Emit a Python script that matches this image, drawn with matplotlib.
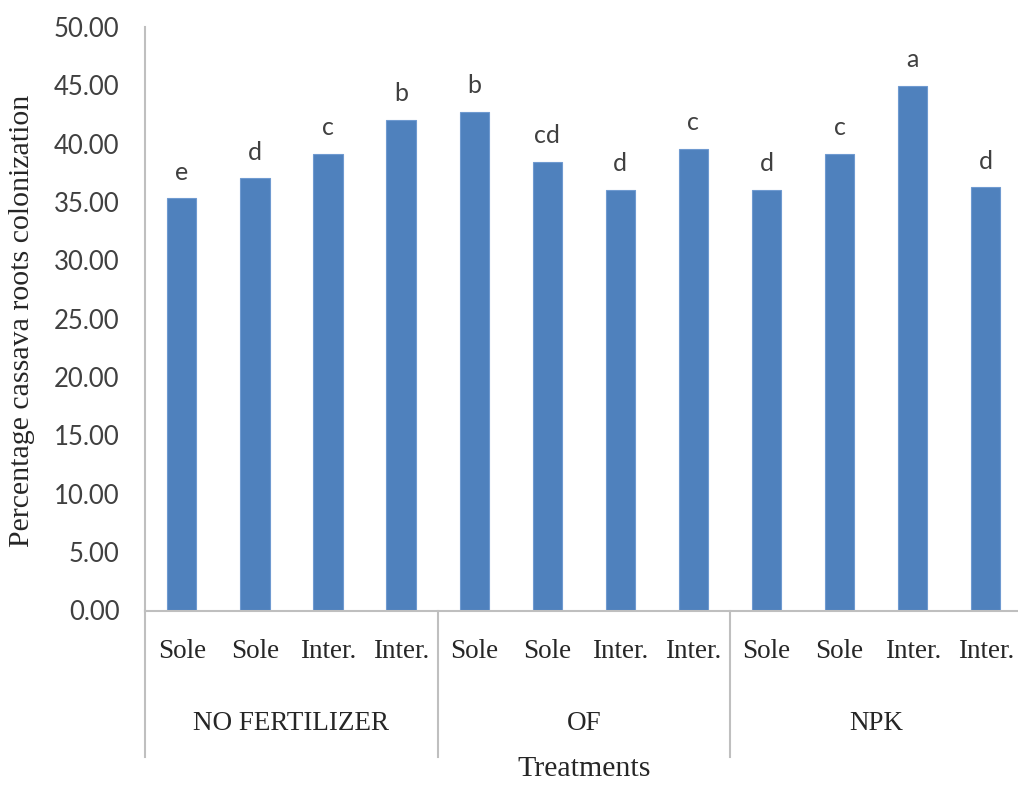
import matplotlib
matplotlib.use("Agg")
import matplotlib.pyplot as plt
from matplotlib.transforms import blended_transform_factory

# Mean root colonization (%) per treatment
systems = ["Sole", "Sole", "Inter.", "Inter.",
           "Sole", "Sole", "Inter.", "Inter.",
           "Sole", "Sole", "Inter.", "Inter."]
groups = ["NO FERTILIZER", "OF", "NPK"]
values = [35.32, 37.03, 39.12, 42.03,
          42.74, 38.46, 36.03, 39.57,
          36.03, 39.14, 44.94, 36.26]
letters = ["e", "d", "c", "b",
           "b", "cd", "d", "c",
           "d", "c", "a", "d"]
yticks = [0, 5, 10, 15, 20, 25, 30, 35, 40, 45, 50]

W, H = 1018, 789
fig = plt.figure(figsize=(W / 100, H / 100), dpi=100)
ax = fig.add_axes([145.3 / W, (H - 610.5) / H, 877 / W, 583.5 / H])

bar_color = "#4F81BD"
axis_color = "#BFBFBF"
serif = ["Liberation Serif", "DejaVu Serif"]
sans = ["Lato", "DejaVu Sans"]

x = list(range(len(values)))
ax.bar(x, values, width=0.4, color=bar_color, edgecolor="#6F9AD0",
       linewidth=0.8, zorder=2)

for xi, v, lab in zip(x, values, letters):
    ax.annotate(lab, (xi, v), xytext=(0, 13.5), textcoords="offset points",
                ha="center", va="baseline", fontsize=18, family=sans,
                color="#404040")

ax.set_xlim(-0.5, len(values) - 0.5)
ax.set_ylim(0, 50)
ax.set_yticks(yticks)
ax.set_yticklabels([f"{t:.2f}" for t in yticks], family=sans, fontsize=18.5,
                   color="#404040")
ax.tick_params(axis="y", length=0, pad=18.5)
ax.set_xticks([])

for side in ("top", "right"):
    ax.spines[side].set_visible(False)
for side in ("left", "bottom"):
    ax.spines[side].set_color(axis_color)
    ax.spines[side].set_linewidth(1.5)

# Two-level category axis
trans = blended_transform_factory(ax.transData, ax.transAxes)
for xi, s in zip(x, systems):
    ax.text(xi, -0.0706, s, transform=trans, ha="center", va="center",
            family=serif, fontsize=19.5, color="#262626")

per_group = len(values) // len(groups)
for gi, g in enumerate(groups):
    cx = gi * per_group + (per_group - 1) / 2
    ax.text(cx, -0.193, g, transform=trans, ha="center", va="center",
            family=serif, fontsize=19.5, color="#262626")

for b in range(len(groups) + 1):
    bx = b * per_group - 0.5
    ax.plot([bx, bx], [0, -0.2506], transform=trans, color=axis_color,
            linewidth=1.5, clip_on=False, zorder=1)

ax.text(0.5, -0.272, "Treatments", transform=ax.transAxes, ha="center",
        va="center", family=serif, fontsize=21.5, color="#262626")

fig.text(22 / W, 1 - 321 / H, "Percentage cassava roots colonization",
         rotation=90, ha="center", va="center", family=serif, fontsize=21.5,
         color="#262626")

fig.savefig("out.png", dpi=100)
